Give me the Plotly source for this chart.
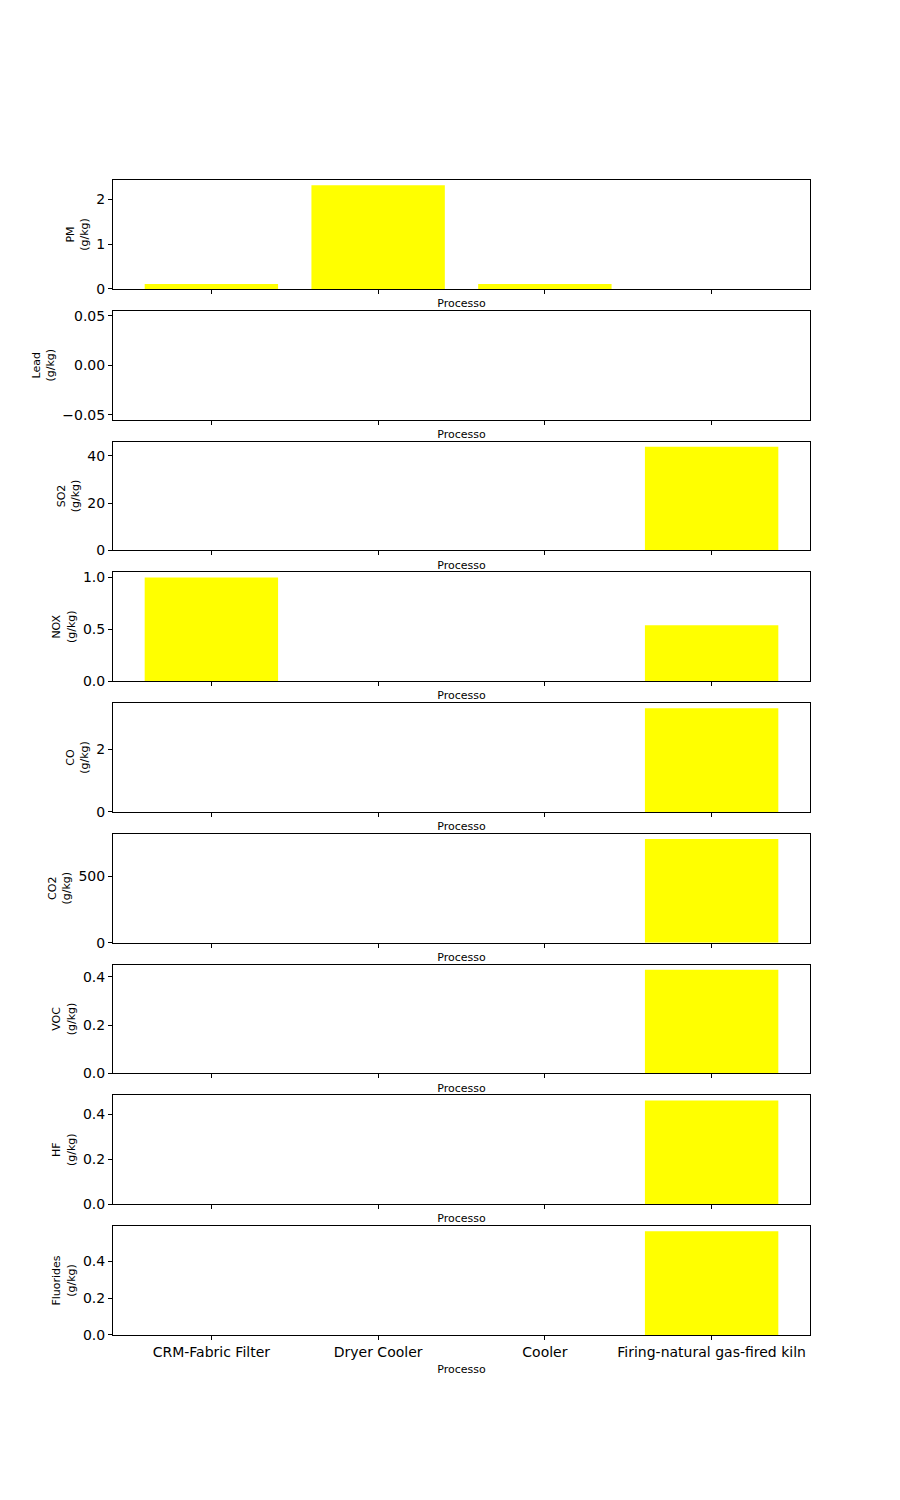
import plotly.graph_objects as go

categories = ["CRM-Fabric Filter", "Dryer Cooler", "Cooler", "Firing-natural gas-fired kiln"]

pm = [0.11, 2.31, 0.11, 0.0]
lead = [0.0, 0.0, 0.0, 0.0]
so2 = [0.0, 0.0, 0.0, 43.9]
nox = [1.0, 0.0, 0.0, 0.54]
co = [0.0, 0.0, 0.0, 3.3]
co2 = [0.0, 0.0, 0.0, 780.0]
voc = [0.0, 0.0, 0.0, 0.43]
hf = [0.0, 0.0, 0.0, 0.463]
fluorides = [0.0, 0.0, 0.0, 0.563]

pollutants = ["PM", "Lead", "SO2", "NOX", "CO", "CO2", "VOC", "HF", "Fluorides"]
series = [pm, lead, so2, nox, co, co2, voc, hf, fluorides]
unit = "(g/kg)"
x_title = "Processo"

dticks = [1, None, 20, 0.5, 2, 500, 0.2, 0.2, 0.2]
formats = ["d", ".2f", "d", ".1f", "d", "d", ".1f", ".1f", ".1f"]

W, H = 900, 1500
left, right = 113, 810
top0, bottom_all = 180, 1335
n = len(pollutants)
ax_h = (bottom_all - top0) / (n + (n - 1) * 0.2)
gap = ax_h * 0.2

font = "DejaVu Sans"
fig = go.Figure()
layout = dict(
    template="none",
    width=W, height=H,
    margin=dict(l=0, r=0, t=0, b=0, pad=0, autoexpand=False),
    paper_bgcolor="white", plot_bgcolor="white",
    showlegend=False, bargap=0.2,
    font=dict(family=font, color="black", size=14),
)

for i, (name, vals) in enumerate(zip(pollutants, series)):
    k = "" if i == 0 else str(i + 1)
    fig.add_trace(go.Bar(x=categories, y=vals, marker=dict(color="#ffff00", line=dict(width=0)),
                         xaxis="x" + k, yaxis="y" + k, width=0.8))
    top = top0 + i * (ax_h + gap)
    bot = top + ax_h
    vmax = max(vals)
    vmin = min(vals)
    if vmax == vmin == 0:
        yr = [-0.055, 0.055]
        yax_extra = dict(tickvals=[-0.05, 0.0, 0.05], tickformat=".2f")
    else:
        yr = [min(0, vmin), vmax * 1.05]
        yax_extra = dict(dtick=dticks[i], tick0=0, tickformat=formats[i])
    last = (i == n - 1)
    layout["xaxis" + k] = dict(
        domain=[left / W, right / W], anchor="y" + k, automargin=False,
        type="category", categoryorder="array", categoryarray=categories,
        range=[-0.59, 3.59],
        showline=True, linecolor="black", linewidth=1, mirror=True,
        ticks="outside", ticklen=4, tickwidth=1, tickcolor="black",
        showticklabels=last, tickfont=dict(size=14, family=font),
        showgrid=False, zeroline=False,
        title=dict(text=x_title, font=dict(size=11, family=font), standoff=6 if not last else 6),
    )
    layout["yaxis" + k] = dict(
        domain=[1 - bot / H, 1 - top / H], anchor="x" + k, automargin=False,
        range=yr,
        showline=True, linecolor="black", linewidth=1, mirror=True,
        ticks="outside", ticklen=4, tickwidth=1, tickcolor="black",
        tickfont=dict(size=14, family=font),
        showgrid=False, zeroline=False,
        title=dict(text=f"{name}<br>{unit}", font=dict(size=11, family=font), standoff=5),
        **yax_extra,
    )

fig.update_layout(**layout)
fig.write_html("out.html")
